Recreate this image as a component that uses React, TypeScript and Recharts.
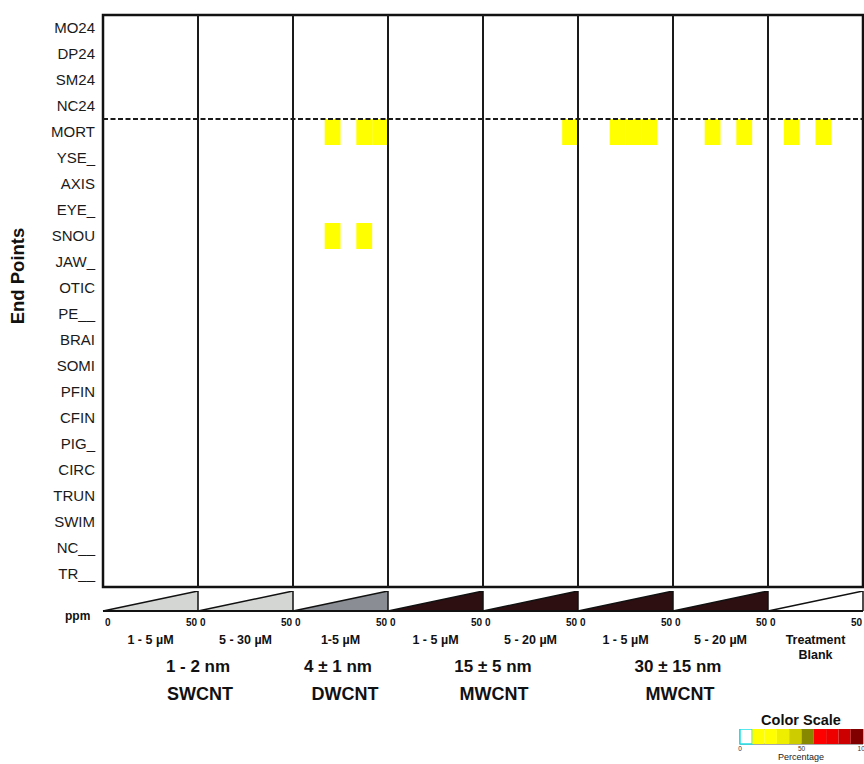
import React from "react";
import {
  ComposedChart, BarChart, Bar, Area, Line, XAxis, YAxis, ReferenceArea, ReferenceLine,
} from "recharts";

// end points, top to bottom
const endPoints = [
  "MO24", "DP24", "SM24", "NC24", "MORT", "YSE_", "AXIS", "EYE_", "SNOU", "JAW_", "OTIC",
  "PE__", "BRAI", "SOMI", "PFIN", "CFIN", "PIG_", "CIRC", "TRUN", "SWIM", "NC__", "TR__",
];
const rangeLabels = [
  "1 - 5 µM", "5 - 30 µM", "1-5 µM", "1 - 5 µM", "5 - 20 µM", "1 - 5 µM", "5 - 20 µM", "Treatment\nBlank",
];
const rampFills = ["#d3d6d2", "#d3d6d2", "#8a8e94", "#2e0f11", "#2e0f11", "#2e0f11", "#2e0f11", "#ffffff"];
const doseRange = ["0", "50"];
const dosesPerPanel = 6;
const sizeLabels = ["1 - 2 nm", "4 ± 1 nm", "15 ± 5 nm", "30 ± 15 nm"];
const typeLabels = ["SWCNT", "DWCNT", "MWCNT", "MWCNT"];

// cells with a response (panel = treatment group, dose = concentration step 0..5)
const hits = [
  { endPoint: "MORT", panel: 2, dose: 2, pct: 15 },
  { endPoint: "MORT", panel: 2, dose: 4, pct: 15 },
  { endPoint: "MORT", panel: 2, dose: 5, pct: 15 },
  { endPoint: "SNOU", panel: 2, dose: 2, pct: 15 },
  { endPoint: "SNOU", panel: 2, dose: 4, pct: 15 },
  { endPoint: "MORT", panel: 4, dose: 5, pct: 15 },
  { endPoint: "MORT", panel: 5, dose: 2, pct: 15 },
  { endPoint: "MORT", panel: 5, dose: 3, pct: 15 },
  { endPoint: "MORT", panel: 5, dose: 4, pct: 15 },
  { endPoint: "MORT", panel: 6, dose: 2, pct: 15 },
  { endPoint: "MORT", panel: 6, dose: 4, pct: 15 },
  { endPoint: "MORT", panel: 7, dose: 1, pct: 15 },
  { endPoint: "MORT", panel: 7, dose: 3, pct: 15 },
];

const scaleColors = [
  "#ffffff", "#ffff00", "#ffff00", "#eeee00", "#cccc00", "#888800", "#ff0000", "#ee0000", "#cc0000", "#800000",
];
const scaleTicks = [0, 50, 100];

const FONT = "'Liberation Sans', Arial, Helvetica, sans-serif";
const PLOT_L = 103;
const PLOT_R = 863;
const panelCount = rampFills.length;
const panelW = (PLOT_R - PLOT_L) / panelCount;
const xMax = panelCount * dosesPerPanel;
const sizeX = [198, 338, 493, 678];
const typeX = [200, 345, 494, 680];

const colorFor = (pct: number) => scaleColors[Math.min(scaleColors.length - 1, Math.floor(pct / 10))];

const rowTicks = endPoints.map((_, i) => i + 0.5);
const boundaries = Array.from({ length: panelCount + 1 }, (_, i) => i * dosesPerPanel);

// cell centres, used so the axes have data to scale
const cellPoints = hits.map((h) => ({
  x: h.panel * dosesPerPanel + h.dose + 0.5,
  y: endPoints.indexOf(h.endPoint) + 0.5,
}));

const rampData = boundaries.map((x, i) => {
  const row: Record<string, number> = { x };
  if (i > 0) row[`p${i - 1}`] = 1;
  if (i < panelCount) row[`p${i}`] = 0;
  return row;
});

const scaleRow = [Object.fromEntries(scaleColors.map((_, i) => [`b${i}`, 10]))];

function DoseTick({ x, y, payload }: any) {
  const v = payload.value;
  const st = { fontFamily: FONT, fontWeight: 700, fontSize: 10, fill: "#111" };
  return (
    <g>
      {v > 0 && <text x={x - 1} y={y + 7} textAnchor="end" {...st}>{doseRange[1]}</text>}
      {v < xMax && <text x={x + 2} y={y + 7} textAnchor="start" {...st}>{doseRange[0]}</text>}
    </g>
  );
}

const abs = (left: number, top: number): React.CSSProperties => ({ position: "absolute", left, top });

export default function App() {
  return (
    <div style={{ position: "absolute", left: 0, top: 0, width: 864, height: 764, background: "#fff", fontFamily: FONT, overflow: "hidden" }}>
      <div style={abs(0, 0)}>
        <ComposedChart width={864} height={600} margin={{ top: 15, right: 1, bottom: 13, left: 0 }} data={cellPoints}>
          <XAxis type="number" dataKey="x" domain={[0, xMax]} allowDataOverflow hide />
          <YAxis
            type="number" dataKey="y" domain={[0, endPoints.length]} allowDataOverflow reversed ticks={rowTicks} interval={0}
            tickFormatter={(v: number) => endPoints[Math.floor(v)]}
            width={103} axisLine={false} tickLine={false}
            tick={{ fontSize: 15, fill: "#1a1a1a", fontFamily: FONT }}
          />
          <Line dataKey="y" stroke="none" dot={false} activeDot={false} isAnimationActive={false} />
          {hits.map((h, i) => {
            const r = endPoints.indexOf(h.endPoint);
            const x1 = h.panel * dosesPerPanel + h.dose;
            return (
              <ReferenceArea key={i} x1={x1} x2={x1 + 1} y1={r} y2={r + 1}
                fill={colorFor(h.pct)} fillOpacity={1} stroke="none" ifOverflow="visible" />
            );
          })}
          {boundaries.slice(1, -1).map((b) => (
            <ReferenceLine key={b} x={b} stroke="#1a1a1a" strokeWidth={2} />
          ))}
          <ReferenceLine y={4} stroke="#1a1a1a" strokeWidth={2} strokeDasharray="5 2.5" />
          <ReferenceArea x1={0} x2={xMax} y1={0} y2={endPoints.length} fill="none" stroke="#111" strokeWidth={2.5} ifOverflow="visible" />
        </ComposedChart>
      </div>

      <div style={{
        ...abs(18, 276), transform: "translate(-50%, -50%) rotate(-90deg)", whiteSpace: "pre",
        fontSize: 18.5, fontWeight: 700, lineHeight: "22px", color: "#111",
      }}>End Points</div>

      <div style={abs(0, 591)}>
        <ComposedChart width={864} height={40} margin={{ top: 0, right: 1, bottom: 0, left: PLOT_L }} data={rampData}>
          <XAxis type="number" dataKey="x" domain={[0, xMax]} ticks={boundaries} interval={0}
            axisLine={false} tickLine={false} height={20} tick={<DoseTick />} />
          <YAxis type="number" domain={[0, 1]} hide />
          {rampFills.map((f, i) => (
            <Area key={i} dataKey={`p${i}`} type="linear" fill={f} fillOpacity={1} stroke="#111"
              strokeWidth={1.5} dot={false} activeDot={false} isAnimationActive={false} />
          ))}
          {boundaries.slice(1).map((b) => (
            <ReferenceLine key={b} x={b} stroke="#111" strokeWidth={1.5} />
          ))}
          <ReferenceLine y={0} stroke="#111" strokeWidth={2} />
        </ComposedChart>
      </div>

      <div style={{ ...abs(65, 609), fontSize: 12, fontWeight: 700, color: "#111" }}>ppm</div>

      {rangeLabels.map((t, i) => (
        <div key={i} style={{
          ...abs(PLOT_L + panelW * (i + 0.5), 633), transform: "translateX(-50%)", whiteSpace: "pre",
          textAlign: "center", fontSize: 12.5, fontWeight: 700, lineHeight: "15px", color: "#111",
        }}>{t}</div>
      ))}
      {sizeLabels.map((t, i) => (
        <div key={i} style={{
          ...abs(sizeX[i], 657), transform: "translateX(-50%)", whiteSpace: "pre",
          fontSize: 17, fontWeight: 700, lineHeight: "20px", color: "#111",
        }}>{t}</div>
      ))}
      {typeLabels.map((t, i) => (
        <div key={i} style={{
          ...abs(typeX[i], 683), transform: "translateX(-50%)", whiteSpace: "pre",
          fontSize: 18, fontWeight: 700, lineHeight: "22px", color: "#111",
        }}>{t}</div>
      ))}

      <div style={{ ...abs(801, 711), transform: "translateX(-50%)", fontSize: 14.5, fontWeight: 700, lineHeight: "18px", color: "#111", whiteSpace: "pre" }}>
        Color Scale
      </div>
      <div style={abs(734, 729)}>
        <BarChart width={130} height={26} layout="vertical" data={scaleRow}
          margin={{ top: 0, right: 1, bottom: 0, left: 6 }} barCategoryGap={0}>
          <XAxis type="number" domain={[0, 100]} ticks={scaleTicks} interval={0} height={11}
            axisLine={false} tickLine={false} tickMargin={0} tickSize={2}
            tick={{ fontSize: 6.5, fill: "#333", fontFamily: FONT }} />
          <YAxis type="category" hide />
          {scaleColors.map((c, i) => (
            <Bar key={i} dataKey={`b${i}`} stackId="s" fill={c}
              stroke={i === 0 ? "#22e0e8" : "none"} strokeWidth={1.5} isAnimationActive={false} />
          ))}
          <ReferenceArea x1={0} x2={100} fill="none" stroke="#555" strokeWidth={1} ifOverflow="visible" />
        </BarChart>
      </div>
      <div style={{ ...abs(801, 752), transform: "translateX(-50%)", fontSize: 9, lineHeight: "11px", color: "#222" }}>
        Percentage
      </div>
    </div>
  );
}
